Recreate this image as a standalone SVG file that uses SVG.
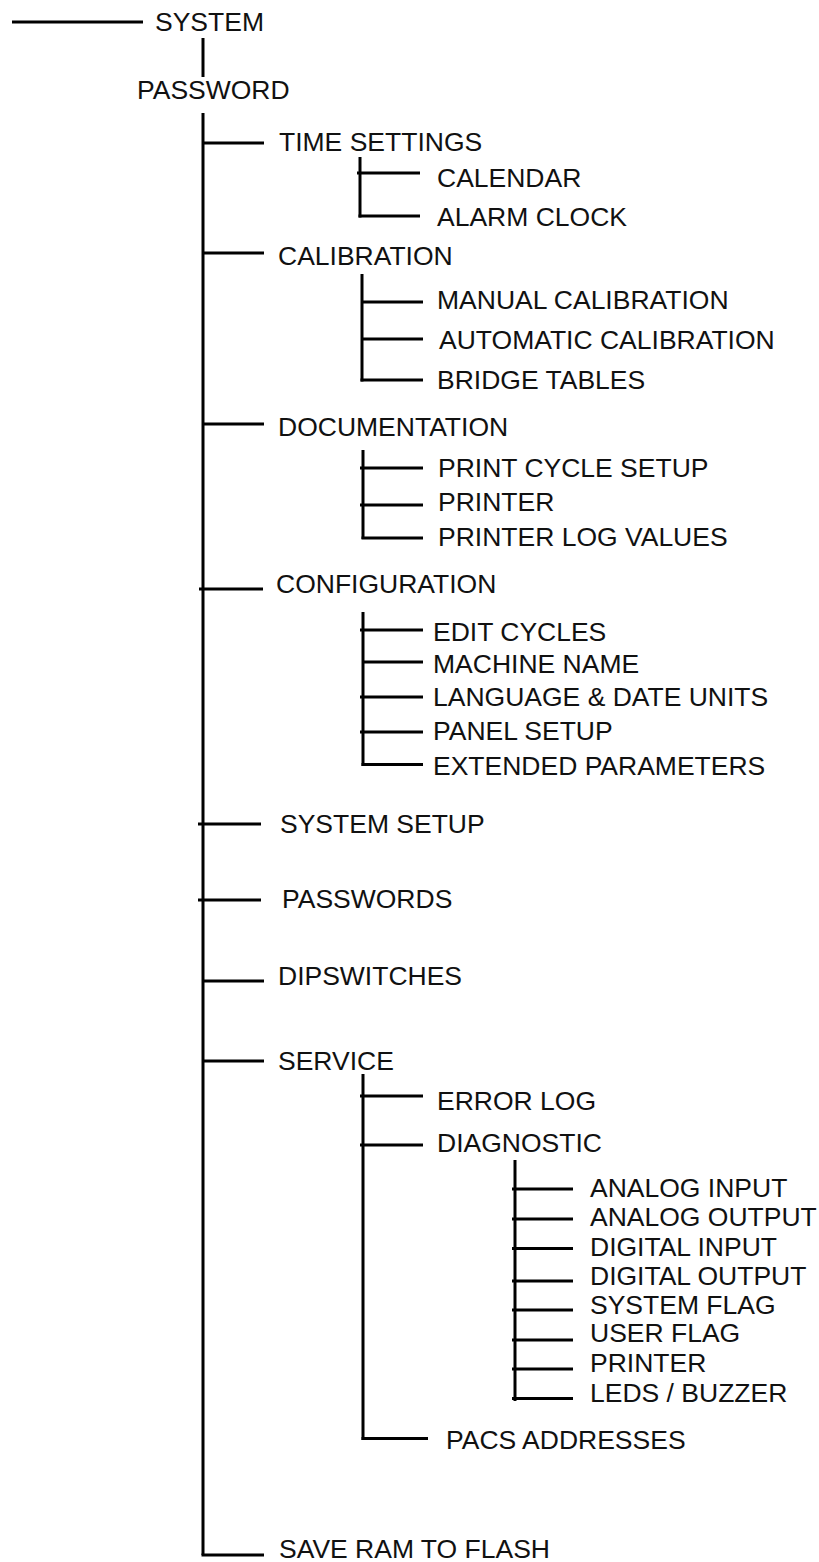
<svg xmlns="http://www.w3.org/2000/svg" width="819" height="1562" viewBox="0 0 819 1562">
  <style>
    .ln { stroke: #000; stroke-width: 3; fill: none; stroke-linecap: butt; }
    .lbl { font-family: "Liberation Sans", Arial, sans-serif; font-size: 26.5px; fill: #111; }
  </style>
  <rect width="819" height="1562" fill="#fff"/>

  <!-- Tree connectors -->
  <g id="connectors">
    <!-- root -->
    <line class="ln" x1="12" y1="22" x2="143" y2="22"/>
    <line class="ln" x1="203" y1="38" x2="203" y2="77"/>
    <!-- main trunk -->
    <line class="ln" x1="203" y1="113" x2="203" y2="1555"/>
    <line class="ln" x1="203" y1="143" x2="264" y2="143"/>
    <line class="ln" x1="203" y1="253" x2="264" y2="253"/>
    <line class="ln" x1="203" y1="424" x2="264" y2="424"/>
    <line class="ln" x1="199" y1="589" x2="263" y2="589"/>
    <line class="ln" x1="198" y1="824" x2="261" y2="824"/>
    <line class="ln" x1="198" y1="900" x2="261" y2="900"/>
    <line class="ln" x1="203" y1="981" x2="264" y2="981"/>
    <line class="ln" x1="203" y1="1061" x2="264" y2="1061"/>
    <line class="ln" x1="201.5" y1="1555" x2="264" y2="1555"/>

    <!-- time settings -->
    <line class="ln" x1="360" y1="157" x2="360" y2="217.5"/>
    <line class="ln" x1="357" y1="173" x2="420" y2="173"/>
    <line class="ln" x1="358.5" y1="216" x2="420" y2="216"/>

    <!-- calibration -->
    <line class="ln" x1="362" y1="274" x2="362" y2="381.5"/>
    <line class="ln" x1="362" y1="302" x2="423" y2="302"/>
    <line class="ln" x1="362" y1="339" x2="423" y2="339"/>
    <line class="ln" x1="360.5" y1="380" x2="423" y2="380"/>

    <!-- documentation -->
    <line class="ln" x1="363" y1="450" x2="363" y2="539"/>
    <line class="ln" x1="360" y1="468" x2="423" y2="468"/>
    <line class="ln" x1="360" y1="505" x2="423" y2="505"/>
    <line class="ln" x1="361.5" y1="538" x2="423" y2="538"/>

    <!-- configuration -->
    <line class="ln" x1="363" y1="612" x2="363" y2="766"/>
    <line class="ln" x1="360" y1="630" x2="423" y2="630"/>
    <line class="ln" x1="363" y1="662" x2="423" y2="662"/>
    <line class="ln" x1="360" y1="697" x2="423" y2="697"/>
    <line class="ln" x1="360" y1="732" x2="423" y2="732"/>
    <line class="ln" x1="361.5" y1="764.5" x2="423" y2="764.5"/>

    <!-- service -->
    <line class="ln" x1="363" y1="1074" x2="363" y2="1440"/>
    <line class="ln" x1="360" y1="1096" x2="423" y2="1096"/>
    <line class="ln" x1="360" y1="1145" x2="423" y2="1145"/>
    <line class="ln" x1="361.5" y1="1438.5" x2="428" y2="1438.5"/>

    <!-- diagnostic -->
    <line class="ln" x1="515" y1="1160" x2="515" y2="1401"/>
    <line class="ln" x1="512" y1="1189" x2="573" y2="1189"/>
    <line class="ln" x1="512" y1="1219" x2="573" y2="1219"/>
    <line class="ln" x1="512" y1="1248.5" x2="573" y2="1248.5"/>
    <line class="ln" x1="512" y1="1281" x2="573" y2="1281"/>
    <line class="ln" x1="512" y1="1310" x2="573" y2="1310"/>
    <line class="ln" x1="512" y1="1340" x2="573" y2="1340"/>
    <line class="ln" x1="512" y1="1369" x2="573" y2="1369"/>
    <line class="ln" x1="512" y1="1398.5" x2="573" y2="1398.5"/>
  </g>

  <!-- Menu entries -->
  <g id="system"><text class="lbl" x="155" y="31">SYSTEM</text></g>
  <g id="password"><text class="lbl" x="137" y="99">PASSWORD</text></g>

  <g id="time-settings"><text class="lbl" x="279" y="151">TIME SETTINGS</text></g>
  <g id="calendar"><text class="lbl" x="437" y="187">CALENDAR</text></g>
  <g id="alarm-clock"><text class="lbl" x="437" y="226">ALARM CLOCK</text></g>

  <g id="calibration"><text class="lbl" x="278" y="265">CALIBRATION</text></g>
  <g id="manual-calibration"><text class="lbl" x="437" y="309">MANUAL CALIBRATION</text></g>
  <g id="automatic-calibration"><text class="lbl" x="439" y="349">AUTOMATIC CALIBRATION</text></g>
  <g id="bridge-tables"><text class="lbl" x="437" y="389">BRIDGE TABLES</text></g>

  <g id="documentation"><text class="lbl" x="278" y="436">DOCUMENTATION</text></g>
  <g id="print-cycle-setup"><text class="lbl" x="438" y="477">PRINT CYCLE SETUP</text></g>
  <g id="printer-doc"><text class="lbl" x="438" y="511">PRINTER</text></g>
  <g id="printer-log-values"><text class="lbl" x="438" y="546">PRINTER LOG VALUES</text></g>

  <g id="configuration"><text class="lbl" x="276" y="593">CONFIGURATION</text></g>
  <g id="edit-cycles"><text class="lbl" x="433" y="641">EDIT CYCLES</text></g>
  <g id="machine-name"><text class="lbl" x="433" y="673">MACHINE NAME</text></g>
  <g id="language-date-units"><text class="lbl" x="433" y="706">LANGUAGE &amp; DATE UNITS</text></g>
  <g id="panel-setup"><text class="lbl" x="433" y="740">PANEL SETUP</text></g>
  <g id="extended-parameters"><text class="lbl" x="433" y="775">EXTENDED PARAMETERS</text></g>

  <g id="system-setup"><text class="lbl" x="280" y="833">SYSTEM SETUP</text></g>
  <g id="passwords"><text class="lbl" x="282" y="908">PASSWORDS</text></g>
  <g id="dipswitches"><text class="lbl" x="278" y="985">DIPSWITCHES</text></g>

  <g id="service"><text class="lbl" x="278" y="1070">SERVICE</text></g>
  <g id="error-log"><text class="lbl" x="437" y="1110">ERROR LOG</text></g>
  <g id="diagnostic"><text class="lbl" x="437" y="1152">DIAGNOSTIC</text></g>
  <g id="analog-input"><text class="lbl" x="590" y="1197">ANALOG INPUT</text></g>
  <g id="analog-output"><text class="lbl" x="590" y="1226">ANALOG OUTPUT</text></g>
  <g id="digital-input"><text class="lbl" x="590" y="1256">DIGITAL INPUT</text></g>
  <g id="digital-output"><text class="lbl" x="590" y="1285">DIGITAL OUTPUT</text></g>
  <g id="system-flag"><text class="lbl" x="590" y="1314">SYSTEM FLAG</text></g>
  <g id="user-flag"><text class="lbl" x="590" y="1342">USER FLAG</text></g>
  <g id="printer-diag"><text class="lbl" x="590" y="1372">PRINTER</text></g>
  <g id="leds-buzzer"><text class="lbl" x="590" y="1402">LEDS / BUZZER</text></g>
  <g id="pacs-addresses"><text class="lbl" x="446" y="1449">PACS ADDRESSES</text></g>

  <g id="save-ram-to-flash"><text class="lbl" x="279" y="1558">SAVE RAM TO FLASH</text></g>
</svg>
